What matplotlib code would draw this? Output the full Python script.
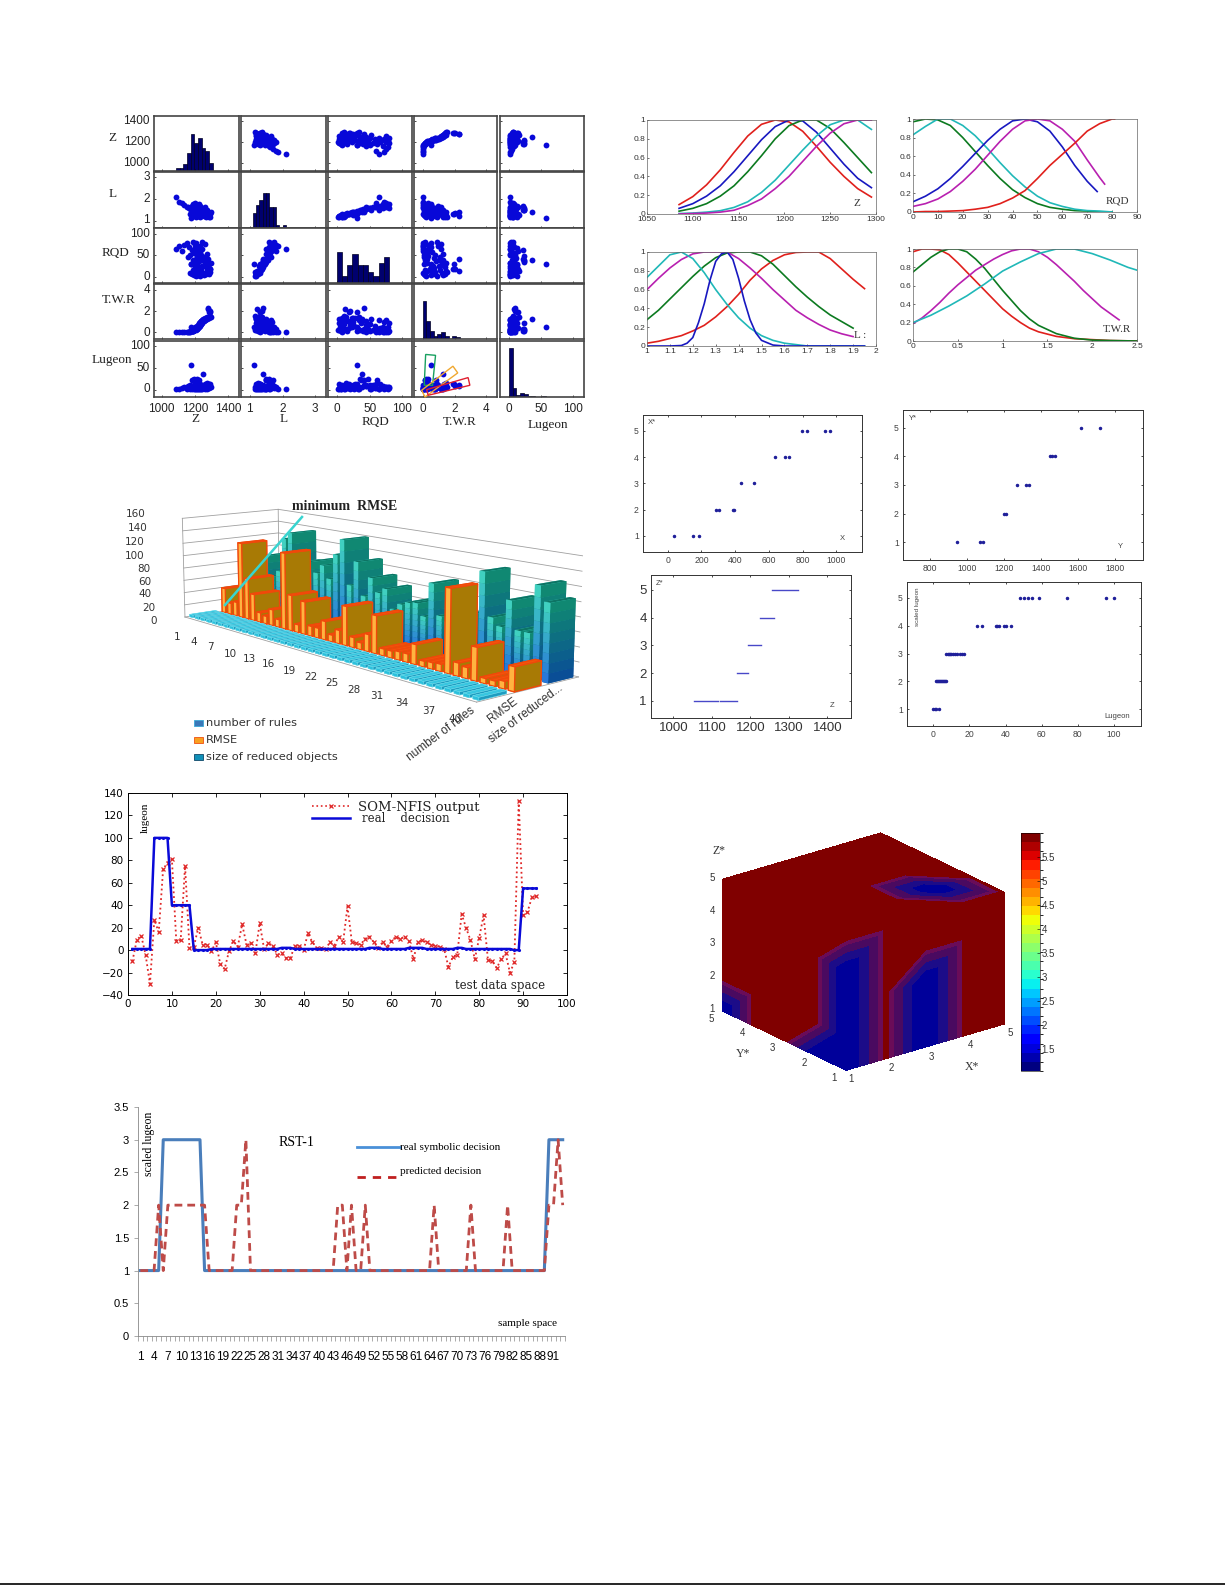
import numpy as np
import matplotlib
matplotlib.use("Agg")
import matplotlib.pyplot as plt
from matplotlib.lines import Line2D
from matplotlib.patches import Polygon, Rectangle
from matplotlib.colors import BoundaryNorm
from matplotlib.cm import ScalarMappable

W, H = 1225, 1585
SANS = "Liberation Sans"
SERIF = "Liberation Serif"

# ---------- pair matrix data ----------
z_vals = [1085,1105,1120,1135,1150,1160,1165,1170,1172,1175,1178,1180,1182,1185,1187,1190,1192,1193,1195,1197,1198,1200,1202,1204,1206,1207,1208,1210,1212,1213,1215,1216,1218,1220,1222,1224,1225,1227,1228,1230,1232,1234,1235,1237,1238,1240,1242,1244,1245,1250,1252,1255,1258,1260,1262,1265,1268,1270,1272,1275,1278,1280,1283,1285,1288,1290,1292,1295]
l_vals = [2.10,1.85,1.80,1.72,1.62,1.65,1.58,1.60,1.30,1.12,1.45,1.70,1.25,1.55,1.35,1.75,1.20,1.50,1.62,1.30,1.80,1.40,1.68,1.15,1.50,1.33,1.72,1.25,1.58,1.42,1.65,1.20,1.38,1.55,1.75,1.28,1.48,1.62,1.18,1.35,1.68,1.45,1.22,1.58,1.32,1.60,1.40,1.50,1.25,1.40,1.55,1.20,1.30,1.45,1.65,1.18,1.35,1.50,1.25,1.28,1.40,1.22,1.32,1.18,1.36,1.30,1.15,1.38]
rqd_vals = [65,72,60,75,78,45,70,50,8,30,30,62,5,40,15,80,3,35,55,12,75,22,66,1,42,18,78,8,48,32,60,4,26,44,70,10,36,58,2,20,72,38,6,50,16,80,25,64,9,38,45,3,28,33,76,7,22,52,14,24,42,12,30,7,19,18,10,33]
twr_vals = [0.05,0.03,0.04,0.04,0.05,0.06,0.05,0.08,0.05,0.55,0.10,0.12,0.10,0.15,0.12,0.15,0.18,0.20,0.25,0.30,0.35,0.55,0.40,0.20,0.28,0.45,0.50,0.60,0.35,0.30,0.42,0.55,0.62,0.70,0.50,0.75,0.85,0.60,0.90,0.70,0.95,1.05,0.80,0.75,1.10,0.90,1.00,1.15,1.20,1.30,1.10,1.25,1.35,1.20,1.15,1.30,1.40,1.30,1.45,1.35,2.30,2.25,1.95,1.40,2.00,1.90,1.50,1.45]
lug_vals = [2,1,3,5,1,8,4,2,10,57,5,22,1,23,7,3,2,24,10,1,6,4,12,2,22,3,5,9,24,1,14,6,2,11,8,1,23,4,13,2,7,5,1,10,3,6,9,2,5,36,8,4,12,1,3,6,9,2,15,11,10,8,12,4,9,14,6,7]
hist_counts = [[2,2,4,11,22,17,20,14,12,5],[9,14,17,21,21,13,13,2,0,2],[14,3,8,13,8,8,5,3,9,12],[23,11,5,2,3,4,2,0,2,1],[73,14,3,6,4,1,2,0,0,2]]
hist_ranges = [(1086,1306),(1.09,2.11),(-1,80),(0,2.33),(0,58)]
hist_tops = [33,34,25,33,84]
pair_xlim = [(954,1464),(0.73,3.33),(-14.4,115.5),(-0.54,4.66),(-14,117)]
pair_ylim = [(928,1447),(0.66,3.25),(-15,114),(-0.63,4.57),(-17,112)]
pair_ticks = [[1000,1200,1400],[1,2,3],[0,50,100],[0,2,4],[0,50,100]]

# ---------- 3D bar data ----------
rules = [4,4,4,4,4,4,4,4,4,4,4,4,4,4,4,4,4,4,4,4,4,4,4,4,4,4,4,4,4,4,4,4,4,4,4,4,4,4,4,4]
rmse = [40,18,22,120,65,42,15,12,25,12,118,55,12,50,15,15,28,10,20,58,15,10,25,55,10,10,12,12,28,8,9,10,115,18,15,45,7,7,10,32]
reduced = [45,50,92,60,70,125,136,90,60,96,80,94,75,115,140,72,110,60,90,70,78,50,60,65,67,50,100,56,50,60,60,70,130,70,60,98,60,60,125,105]
bar_legend = ["number of rules", "RMSE", "size of reduced objects"]

# ---------- line chart data ----------
som_output = [-10,9,13,-4,-30,27,16,72,78,81,8,9,75,2,3,20,5,5,-1,7,-12,-17,-1,8,3,23,5,6,-3,24,1,6,4,-4,-3,-7,-7,4,4,0,15,7,2,2,1,7,4,12,7,39,7,6,5,10,12,7,2,7,3,8,12,10,12,8,-8,7,9,7,5,4,3,1,-15,-6,-4,32,20,9,-8,11,31,-9,-10,-16,-8,-3,-20,-11,133,31,34,47,48]
real_decision = [1,1,1,1,1,100,100,100,100,40,40,40,40,40,0,0,0,0,1,1,1,1,1,1,1,1,1,1,1,1,1,1,1,1,2,2,2,1,1,1,1,1,1,1,1,1,1,1,1,1,1,1,1,1,2,2,2,1,1,1,1,1,1,2,2,2,2,1,1,1,1,1,1,1,2,2,1,1,1,1,1,1,1,1,1,1,1,0,0,55,55,55,55]

# ---------- RST-1 data ----------
rst_real = [1,1,1,1,1,3,3,3,3,3,3,3,3,3,1,1,1,1,1,1,1,1,1,1,1,1,1,1,1,1,1,1,1,1,1,1,1,1,1,1,1,1,1,1,1,1,1,1,1,1,1,1,1,1,1,1,1,1,1,1,1,1,1,1,1,1,1,1,1,1,1,1,1,1,1,1,1,1,1,1,1,1,1,1,1,1,1,1,1,3,3,3,3]
rst_pred = [1,1,1,1,2,1,2,2,2,2,2,2,2,2,2,1,1,1,1,1,1,2,2,3,1,1,1,1,1,1,1,1,1,1,1,1,1,1,1,1,1,1,1,2,2,1,2,1,1,2,1,1,1,1,1,1,1,1,1,1,1,1,1,1,2,1,1,1,1,1,1,1,2,1,1,1,1,1,1,1,2,1,1,1,1,1,1,1,1,2,2,3,2]

# ---------- membership function data ----------
mf_z_x = [1085,1100,1115,1130,1145,1160,1175,1190,1205,1220,1235,1250,1265,1280,1295]
mf_z = {
 "r": (mf_z_x,[.10,.185,.31,.47,.655,.83,.954,1,.98,.88,.72,.55,.40,.27,.18]),
 "b": (mf_z_x,[.06,.11,.19,.30,.45,.62,.79,.93,1,.99,.87,.70,.53,.38,.28]),
 "g": (mf_z_x,[.03,.06,.11,.19,.30,.45,.62,.80,.94,1,1,.91,.76,.60,.44]),
 "c": (mf_z_x,[.005,.01,.02,.035,.07,.13,.23,.36,.52,.68,.83,.95,1,1,.90]),
 "m": (mf_z_x,[0,.005,.01,.02,.04,.09,.16,.27,.40,.56,.72,.86,.96,1,1]),
}
mf_rqd_x = [0,5,10,15,20,25,30,35,40,45,50,55,60,65,70,75,80]
mf_rqd = {
 "g": (mf_rqd_x,[.97,1,.99,.93,.80,.65,.50,.36,.24,.155,.09,.05,.03,.015,.01,0,0]),
 "c": (mf_rqd_x,[.83,.92,1,1,.93,.82,.68,.53,.39,.27,.17,.10,.06,.03,.015,.01,0]),
 "b": ([0,5,10,15,20,25,30,35,40,45,50,55,60,65,70,74],[.11,.17,.25,.36,.49,.63,.77,.89,.98,1,.97,.87,.70,.50,.33,.22]),
 "m": ([0,5,10,15,20,25,30,35,40,45,50,55,60,65,70,75,77],[.06,.09,.14,.22,.33,.46,.61,.76,.89,.98,1,.98,.89,.76,.56,.37,.30]),
 "r": ([0,5,10,15,20,25,30,35,40,45,50,55,60,65,70,75,80,81],[0,.005,.005,.01,.015,.03,.05,.09,.15,.23,.36,.5,.62,.74,.87,.95,1,1]),
}
mf_l_x = [1,1.05,1.1,1.15,1.2,1.25,1.3,1.35,1.4,1.45,1.5,1.55,1.6,1.65,1.7,1.75,1.8,1.85,1.9,1.95]
mf_l = {
 "r": (mf_l_x,[.03,.05,.08,.11,.16,.22,.31,.42,.55,.70,.82,.91,.97,.995,1,1,.93,.82,.71,.61]),
 "g": (mf_l_x[:19],[.28,.38,.50,.62,.74,.85,.94,.99,1,1,.96,.87,.75,.63,.52,.42,.33,.26,.19]),
 "m": (mf_l_x[:19],[.60,.72,.83,.92,.98,1,1,1,.93,.83,.72,.60,.49,.38,.30,.23,.17,.13,.10]),
 "c": (mf_l_x,[.73,.85,.97,1,.93,.78,.60,.44,.30,.19,.11,.06,.03,.015,0,0,0,0,0,0]),
 "b": ([1,1.1,1.15,1.175,1.2,1.225,1.25,1.275,1.3,1.325,1.35,1.375,1.4,1.425,1.45,1.475,1.5,1.55,1.6,1.95],[0,0,.005,.03,.09,.25,.45,.70,.90,.98,1,.92,.72,.48,.28,.14,.06,.01,0,0]),
}
mf_t_x = [0,.1,.2,.3,.4,.5,.6,.7,.8,.9,1,1.1,1.2,1.3,1.4,1.6,1.8,2,2.2,2.5]
mf_t = {
 "r": (mf_t_x,[.97,1,1,.99,.94,.85,.75,.65,.55,.45,.35,.27,.20,.14,.10,.05,.025,.015,.005,0]),
 "g": (mf_t_x,[.75,.83,.91,.97,1,1,.97,.89,.79,.67,.55,.44,.33,.24,.17,.08,.03,.01,.005,0]),
 "m": ([0,.1,.2,.3,.4,.5,.6,.7,.8,.9,1,1.1,1.2,1.3,1.4,1.5,1.6,1.7,1.8,1.9,2,2.1,2.2,2.3],[.19,.25,.33,.42,.52,.61,.69,.77,.83,.89,.94,.98,1,1,.97,.91,.83,.74,.65,.55,.46,.37,.30,.23]),
 "c": ([0,.2,.4,.6,.8,1,1.2,1.4,1.6,1.8,2,2.2,2.4,2.5],[.20,.28,.38,.49,.62,.76,.86,.95,1,1,.95,.88,.80,.77]),
}
mf_colors = {"r":"#e0201c","b":"#1818c0","g":"#0c7a20","c":"#20b8b8","m":"#b820b0"}

# ---------- scaled dot plots ----------
x_pts = {1:[39,152,183],2:[286,302,385,394],3:[432,513],4:[639,698,722],5:[795,828,931,960]}
y_pts = {1:[950,1070,1090],2:[1202,1211],3:[1270,1320,1335],4:[1449,1463,1477],5:[1616,1721]}
z_runs = {1:[(1054,1116),(1120,1166)],2:[(1164,1194)],3:[(1193,1228)],4:[(1226,1260)],5:[(1257,1323)]}
lug_pts = {1:[0,1,1.3,3.1],2:[1.3,2,2.6,3.1,3.7,4.3,4.8,5.4,6,6.5,7.2],3:[7,8,8.5,9,10,11,12,13,15,16,16.8],4:[24.3,26.9,34.6,35.4,36.3,39,40,43],5:[48,50,52.4,54.8,58.7,74,95.7,100]}

# ---------- cube data ----------
cube_axis = [1,2,3,4,5]
hi, lo = 5.9, 1.1
cube_top = [[hi,hi,hi,hi,hi],[hi,hi,hi,lo,hi],[hi,hi,hi,hi,hi],[hi,hi,hi,hi,hi],[hi,hi,hi,hi,hi]]   # rows y, cols x
cube_left = [[lo,lo,hi,hi,lo],[lo,hi,hi,hi,hi],[lo,hi,hi,hi,hi],[lo,hi,hi,hi,hi],[hi,hi,hi,hi,hi]]  # rows z, cols y
cube_right = [[lo,hi,lo,hi,hi],[lo,hi,lo,hi,hi],[lo,hi,lo,hi,hi],[lo,hi,hi,hi,hi],[hi,hi,hi,hi,hi]] # rows z, cols x
cube_levels = [1.0,2.7,3.9,5.0,5.6,6.0]
cube_colors = ["#00009a","#1c0c88","#4a0a60","#6a0c58","#800000"]

fig = plt.figure(figsize=(W/100, H/100), dpi=100, facecolor="white")


def pxax(l, t, r, b, **kw):
    return fig.add_axes([l/W, 1-b/H, (r-l)/W, (b-t)/H], **kw)


def T(x, y, s, size=8, family=SANS, ha="center", va="center", **kw):
    return fig.text(x/W, 1-y/H, s, fontsize=size, family=family, ha=ha, va=va, **kw)


# ================= 3D bars =================
ax3 = pxax(53, 298, 653, 898, projection="3d", computed_zorder=False)
ax3.patch.set_alpha(0)
ax3.set_proj_type("persp", focal_length=0.38)
ax3.view_init(elev=10.5, azim=-40)
ax3.set_box_aspect((3.5, 1.0, 0.85), zoom=0.787)
ax3.set_xlim(0.5, 40.5, view_margin=0)
ax3.set_ylim(0, 3, view_margin=0)
ax3.set_zlim(0, 160, view_margin=0)
ax3.set_axis_off()
for v in range(0, 161, 20):
    ax3.plot([0.5,0.5],[0,3],[v,v], color="#a0a0a0", lw=0.6, zorder=1)
    ax3.plot([0.5,40.5],[3,3],[v,v], color="#a0a0a0", lw=0.6, zorder=1)
ax3.plot([40.5,40.5],[0,3],[0,0], color="#a0a0a0", lw=0.6, zorder=1)
ax3.plot([0.5,40.5],[0,0],[0,0], color="#a0a0a0", lw=0.6, zorder=1)
ax3.plot([0.5,0.5],[0,0],[0,160], color="#a0a0a0", lw=0.6, zorder=1)
ax3.plot([0.5,0.5],[3,3],[0,160], color="#a0a0a0", lw=0.6, zorder=1)
cats = np.arange(1, 41)
dx, dy = 0.62, 0.78
top_c, low_c = np.array([0x10,0x88,0x72])/255, np.array([0x0a,0x4e,0x96])/255
side_t, side_l = np.array([0x40,0xd0,0xc0])/255, np.array([0x28,0x78,0xd8])/255
nseg = 8
xs, ys, zs, ws, ds, hs, fc = [], [], [], [], [], [], []
for c, v in zip(cats, reduced):
    for k in range(nseg):
        f = k/(nseg-1)
        col = low_c*(1-f)+top_c*f
        sid = side_l*(1-f)+side_t*f
        xs.append(c-dx/2); ys.append(2.11); zs.append(v*k/nseg)
        ws.append(dx); ds.append(dy); hs.append(v/nseg)
        fc += [tuple(col),"#0d7464",tuple(sid),tuple(col),tuple(sid),tuple(col)]
ax3.bar3d(xs, ys, zs, ws, ds, hs, color=fc, shade=False, edgecolor=None, zorder=2, linewidth=0)
ax3.bar3d(cats-dx/2, np.full(40,1.11), np.zeros(40), np.full(40,dx), np.full(40,dy), rmse,
          color=sum([["#a87a05","#f2560c","#ffb340","#a87a05","#ffb340","#a87a05"] for _ in cats], []),
          shade=False, edgecolor="#f0480a", linewidth=0.9, zorder=3)
ax3.bar3d(cats-dx/2, np.full(40,0.11), np.zeros(40), np.full(40,dx), np.full(40,dy), rules,
          color=sum([["#1d9cc0","#37c6e0","#2cc0dc","#1d9cc0","#2cc0dc","#1d9cc0"] for _ in cats], []),
          shade=False, edgecolor="#7ae0ee", linewidth=0.3, zorder=4)
fig.add_artist(Line2D([225/W,302/W],[1-605/H,1-517/H], color="#38d4d0", lw=1.8))
T(345, 506, "minimum  RMSE", size=10, family=SERIF, weight="bold", color="#222222")
for v, zx, zy in zip(range(0,161,20),[192,175,165,165,160,135,135,142,138],[422,383,343,305,266,227,185,144,103]):
    T(90+zx/3, 480+zy/3, str(v), size=7.5, family="DejaVu Sans", color="#333333")
for s, zx, zy in zip(range(1,41,3),[260,311,362,420,478,536,598,662,725,792,861,936,1015,1095],[471,485,501,521,537,553,572,591,608,630,648,669,692,716]):
    T(90+zx/3, 480+zy/3, str(s), size=7.5, family="DejaVu Sans", color="#333333")
for zy, s, fcol, ecol in [(730,bar_legend[0],"#3a78b8","#3aa8d8"),(780,bar_legend[1],"#f8a020","#f05010"),(830,bar_legend[2],"#1090b8","#104868")]:
    fig.add_artist(Rectangle((194/W,1-(480+zy/3+3)/H),9/W,6/H,fc=fcol,ec=ecol,lw=0.6,transform=fig.transFigure))
    T(206, 480+zy/3, s, size=8.2, family="DejaVu Sans", ha="left", color="#333333")
T(441, 734, "number of rules", size=8.5, rotation=37, color="#333333")
T(503, 710, "RMSE", size=8.5, rotation=37, color="#333333")
T(526, 714, "size of reduced...", size=8.5, rotation=37, color="#333333")

# ================= pair matrix =================
data = [z_vals, l_vals, rqd_vals, twr_vals, lug_vals]
cols = [(154,239),(241,326),(328,412),(414,497),(500,584)]
rows = [(116,171),(172,228),(228,283),(284,339),(341,397)]
for r in range(5):
    for c in range(5):
        ax = pxax(cols[c][0], rows[r][0], cols[c][1], rows[r][1])
        ax.set_xlim(pair_xlim[c])
        if r == c:
            edges = np.linspace(hist_ranges[c][0], hist_ranges[c][1], 11)
            ax.bar(edges[:-1], hist_counts[c], width=np.diff(edges), align="edge",
                   color="#00006e", edgecolor="#000020", linewidth=0.5)
            ax.set_ylim(0, hist_tops[c])
            ax.set_yticks([])
        else:
            ax.plot(data[c], data[r], "o", color="#0808d8", ms=4.2, mew=0)
            ax.set_ylim(pair_ylim[r])
            ax.set_yticks(pair_ticks[r])
        ax.set_xticks(pair_ticks[c])
        ax.tick_params(direction="in", length=1.5, width=0.5, labelleft=False, labelbottom=False)
        if r == 4:
            ax.tick_params(labelbottom=True, labelsize=8.5, pad=4, labelcolor="#222222")
            for t in ax.get_xticklabels():
                t.set_family(SANS)
        for s in ax.spines.values():
            s.set_linewidth(1.2)
            s.set_color("#444444")
        if r == 4 and c == 3:
            ax.add_patch(Polygon([(0.19,81),(0.81,79),(0.62,10),(0.10,10)], fill=False, ec="#18a060", lw=1, zorder=5))
            ax.add_patch(Polygon([(-0.06,-1.5),(1.9,54),(2.2,38.5),(0.15,-17)], fill=False, ec="#f0a830", lw=1, clip_on=False, zorder=5))
            ax.add_patch(Polygon([(0.25,0),(2.85,27.7),(2.96,10),(0.35,-13)], fill=False, ec="#e02030", lw=1, clip_on=False, zorder=5))
for yy, p in zip([(62,126,190),(232,297,361),(403,466,530),(571,635,698),(738,803,868)], pair_ticks):
    for zy, v in zip(yy, p[::-1]):
        T(150, 100+zy/3, str(v), size=8.5, ha="right", color="#222222")
for x, y, s in [(112,138,"Z"),(113,194,"L"),(115,253,"RQD"),(119,300,"T.W.R"),(112,360,"Lugeon"),
                (195,419,"Z"),(284,419,"L"),(375,422,"RQD"),(460,422,"T.W.R"),(548,425,"Lugeon")]:
    T(x, y, s, size=9.5, family=SERIF, color="#222222")

# ================= SOM-NFIS line chart =================
ax = pxax(128, 793, 567, 995)
idx = np.arange(1, 94)
ax.plot(idx, som_output, ":", color="#e02828", lw=1.3, marker="x", ms=3.2, mew=0.9)
ax.plot(idx, real_decision, "-", color="#0a0ad8", lw=1.8, marker=".", ms=2.5)
ax.set_xlim(0, 100); ax.set_ylim(-40, 140)
ax.set_xticks(range(0, 101, 10)); ax.set_yticks(range(-40, 141, 20))
ax.tick_params(direction="in", length=3, width=0.6, top=True, right=True, labelsize=7.5, pad=3)
for lab in ax.get_xticklabels()+ax.get_yticklabels():
    lab.set_family("DejaVu Sans")
for s in ax.spines.values():
    s.set_linewidth(0.7)
ax.plot([0.419,0.506],[0.936,0.936], transform=ax.transAxes, ls=":", color="#e02828", lw=1.2)
ax.plot([0.4625],[0.936], transform=ax.transAxes, ls="none", color="#e02828", marker="x", ms=3, mew=0.9)
ax.plot([0.419,0.506],[0.876,0.876], transform=ax.transAxes, color="#0a0ad8", lw=1.8)
T(358, 807, "SOM-NFIS output", size=9.5, family="DejaVu Serif", ha="left", color="#222222")
T(362, 818, "real    decision", size=8.5, family="DejaVu Serif", ha="left", color="#222222")
T(145, 818, "lugeon", size=8, family=SERIF, rotation=90)
T(500, 986, "test data space", size=8.5, family="DejaVu Serif", color="#222222")

# ================= RST-1 =================
ax = pxax(138, 1107, 565, 1336)
cat = np.arange(1, 94)
ax.plot(cat, rst_real, color="#4a7ebb", lw=2.2)
ax.plot(cat, rst_pred, color="#be4b48", lw=2.0, ls=(0, (2.8, 1.8)))
ax.set_xlim(0.5, 93.5); ax.set_ylim(0, 3.5)
ax.set_yticks(np.arange(0, 3.6, 0.5)); ax.set_yticklabels(["0","0.5","1","1.5","2","2.5","3","3.5"])
ax.set_xticks(np.arange(0.5, 94)); ax.set_xticklabels([])
ax.set_xticks(np.arange(1, 94, 3), minor=True)
ax.set_xticklabels([str(v) for v in range(1, 94, 3)], minor=True, fontsize=8.5, family=SANS)
ax.tick_params(axis="x", which="major", length=3.5, width=0.5, color="#888888")
ax.tick_params(axis="x", which="minor", length=0, pad=11)
ax.tick_params(axis="y", length=3, width=0.5, color="#888888", labelsize=8)
for lab in ax.get_yticklabels():
    lab.set_family(SANS)
ax.spines["top"].set_visible(False); ax.spines["right"].set_visible(False)
ax.spines["left"].set_color("#888888"); ax.spines["bottom"].set_color("#888888")
ax.spines["left"].set_linewidth(0.6); ax.spines["bottom"].set_linewidth(0.6)
fig.add_artist(Line2D([357/W,400/W],[1-1147/H,1-1147/H], color="#4a90d8", lw=2))
fig.add_artist(Line2D([357/W,400/W],[1-1177/H,1-1177/H], color="#c02020", lw=2, ls=(0,(3,2.5))))
T(400, 1148, "real symbolic decision", size=8, family=SERIF, ha="left")
T(400, 1172, "predicted decision", size=8, family=SERIF, ha="left")
T(296, 1143, "RST-1", size=10, family=SERIF)
T(149, 1144, "scaled lugeon", size=8.5, family=SERIF, rotation=90)
T(527, 1324, "sample space", size=8, family=SERIF)

# ================= membership plots =================
def mf_panel(box, curves, xlim, xticks, xfmt, label, lpos):
    a = pxax(*box)
    for key, v in curves.items():
        a.plot(v[0], v[1], color=mf_colors[key], lw=1.2)
    a.set_xlim(xlim); a.set_ylim(0, 1)
    a.set_xticks(xticks); a.set_xticklabels(xfmt)
    a.set_yticks([0,.2,.4,.6,.8,1]); a.set_yticklabels(["0","0.2","0.4","0.6","0.8","1"])
    a.tick_params(direction="in", length=1.5, width=0.4, labelsize=6, pad=1.5, labelcolor="#333333")
    for lab in a.get_xticklabels()+a.get_yticklabels():
        lab.set_family(SANS)
    for sp in a.spines.values():
        sp.set_linewidth(0.5); sp.set_color("#666666")
    T(lpos[0], lpos[1], label, size=8, family=SERIF, color="#333333")

mf_panel((647,120,876,214), mf_z, (1050,1300), range(1050,1301,50), [str(v) for v in range(1050,1301,50)], "Z", (857,204))
mf_panel((913,119,1137,212), mf_rqd, (0,90), range(0,91,10), [str(v) for v in range(0,91,10)], "RQD", (1118,201))
mf_panel((647,252,876,346), mf_l, (1,2), np.arange(1,2.01,.1), ["1","1.1","1.2","1.3","1.4","1.5","1.6","1.7","1.8","1.9","2"], "L :", (860,336))
mf_panel((913,249,1137,341), mf_t, (0,2.5), [0,.5,1,1.5,2,2.5], ["0","0.5","1","1.5","2","2.5"], "T.W.R", (1117,330))

# ================= scaled dot plots =================
def dot_panel(box, xlim, ylim, xticks):
    a = pxax(*box)
    a.set_xlim(xlim); a.set_ylim(ylim)
    a.set_xticks(xticks); a.set_yticks([1,2,3,4,5])
    a.tick_params(direction="in", length=1.5, width=0.5, top=True, right=True, labelsize=6.2, pad=3, labelcolor="#444444")
    for lab in a.get_xticklabels()+a.get_yticklabels():
        lab.set_family(SANS)
    for sp in a.spines.values():
        sp.set_linewidth(0.7); sp.set_color("#333333")
    return a

a = dot_panel((643,415,862,552), (-146,1152), (0.39,5.6), range(0,1001,200))
for k, v in x_pts.items():
    a.plot(v, [k]*len(v), ".", color="#20209a", ms=3)
T(652, 423, "X*", size=5.5, color="#444444"); T(842, 539, "X", size=5.5, color="#444444")
a = dot_panel((903,410,1143,560), (656,1953), (0.38,5.62), range(800,1801,200))
for k, v in y_pts.items():
    a.plot(v, [k]*len(v), ".", color="#20209a", ms=3)
T(913, 419, "Y*", size=5.5, color="#444444"); T(1120, 547, "Y", size=5.5, color="#444444")
a = dot_panel((651,575,851,718), (942,1461), (0.38,5.54), range(1000,1401,100))
a.tick_params(labelsize=9.5, pad=3, labelcolor="#333333")
for k, runs in z_runs.items():
    for s, e in runs:
        a.plot([s,e],[k,k], color="#4848c8", lw=1.0)
T(660, 583, "Z*", size=5.5, color="#444444"); T(832, 706, "Z", size=5.5, color="#444444")
a = dot_panel((907,582,1141,726), (-14.6,115), (0.40,5.57), range(0,101,20))
for k, v in lug_pts.items():
    a.plot(v, [k]*len(v), ".", color="#20209a", ms=3)
T(918, 607, "scaled lugeon", size=4.5, rotation=90, color="#444444")
T(1117, 716, "Lugeon", size=5.5, color="#444444")

# ================= cube =================
cb = pxax(658, 757, 1058, 1157, projection="3d", computed_zorder=False)
cb.patch.set_alpha(0)
cb.set_proj_type("ortho")
cb.view_init(elev=22, azim=-128)
cb.set_box_aspect((1,1,0.71), zoom=0.77)
cb.set_xlim(1,5,view_margin=0); cb.set_ylim(1,5,view_margin=0); cb.set_zlim(1,5,view_margin=0)
cb.set_axis_off()
g = np.array(cube_axis, dtype=float)
A, B = np.meshgrid(g, g)      # A: column coordinate, B: row coordinate
a_f, b_f = A.ravel(), B.ravel()


def grid_tris(up):
    """Triangles of the 5x5 grid; up=True splits cells along (+1,+1), else along (+1,-1)."""
    out = []
    for j in range(4):
        for i in range(4):
            p, q, s, t = j*5+i, j*5+i+1, (j+1)*5+i, (j+1)*5+i+1
            out += [[p,q,t],[p,t,s]] if up else [[p,q,s],[q,t,s]]
    return out


kw = dict(levels=cube_levels, colors=cube_colors, antialiased=False)
cb.tricontourf(a_f, b_f, np.array(cube_top).ravel(), triangles=grid_tris(False), zdir="z", offset=5, **kw)
cb.tricontourf(np.array(cube_left).ravel(), a_f, b_f, triangles=grid_tris(False), zdir="x", offset=1, **kw)
# y-plane: matplotlib contours it over (z, x), so columns run along z and rows along x
Rt = np.array(cube_right).T
cb.tricontourf(b_f, Rt.ravel(), a_f, triangles=grid_tris(True), zdir="y", offset=1, **kw)
for v, zy in zip([5,4,3,2,1],[203,302,398,497,597]):
    T(680+97/3, 810+zy/3, str(v), size=7, color="#333333")
for v, (zx, zy) in zip([5,4,3,2,1],[(95,628),(187,670),(278,715),(372,760),(463,803)]):
    T(680+zx/3, 810+zy/3, str(v), size=7, color="#333333")
for v, (zx, zy) in zip([1,2,3,4,5],[(513,808),(635,775),(755,740),(873,706),(992,670)]):
    T(680+zx/3, 810+zy/3, str(v), size=7, color="#333333")
T(719, 851, "Z*", size=8.5, family=SERIF, color="#333333")
T(743, 1054, "Y*", size=8.5, family=SERIF, color="#333333")
T(972, 1067, "X*", size=8.5, family=SERIF, color="#333333")

cax = pxax(1021, 833, 1040, 1071)
bounds = np.linspace(1.04, 5.99, 27)
cbar = fig.colorbar(ScalarMappable(norm=BoundaryNorm(bounds, 26), cmap=plt.get_cmap("jet", 26)), cax=cax,
                    ticks=[1.5,2,2.5,3,3.5,4,4.5,5,5.5], spacing="proportional", drawedges=False)
cbar.ax.set_yticklabels(["1.5","2","2.5","3","3.5","4","4.5","5","5.5"])
cbar.ax.tick_params(length=2, width=0.4, labelsize=7, pad=1, direction="in", labelcolor="#333333")
for lab in cbar.ax.get_yticklabels():
    lab.set_family(SANS)
cbar.outline.set_linewidth(0.4)

# page rule at the bottom
fig.add_artist(Line2D([0,1],[1-1584/H,1-1584/H], color="black", lw=1.2))

fig.savefig("out.png", dpi=100, facecolor="white")
